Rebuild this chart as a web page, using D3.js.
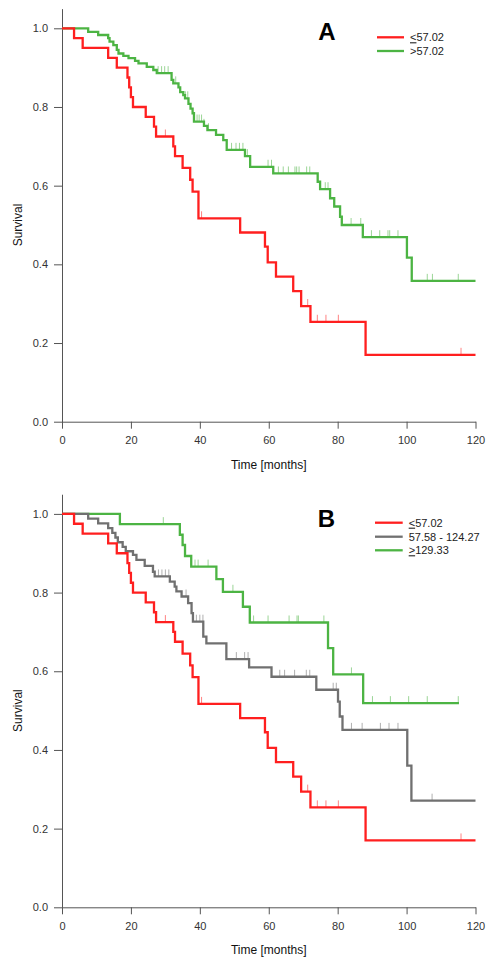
<!DOCTYPE html>
<html>
<head>
<meta charset="utf-8">
<script src="https://cdn.jsdelivr.net/npm/d3@7"></script>
<style>
  html, body { margin: 0; padding: 0; background: #fff; }
  svg { display: block; font-family: "Liberation Sans", Arial, sans-serif; }
</style>
</head>
<body>
<svg id="chart" width="493" height="969"></svg>
<script>
// ---------- DATA ----------
const xTicks = [0, 20, 40, 60, 80, 100, 120];
const yTicks = [0.0, 0.2, 0.4, 0.6, 0.8, 1.0];

// group <=57.02 (same in both panels): [time, survival after event]
const lowSteps = [[3.5,0.975],[6.0,0.95],[13.4,0.925],[15.9,0.9],[19.0,0.875],[19.5,0.85],[20.0,0.825],[20.6,0.8],
  [24.3,0.775],[26.7,0.75],[27.3,0.725],[32.3,0.7],[32.8,0.675],[35.0,0.645],[37.2,0.615],[37.9,0.585],[39.6,0.517],
  [51.7,0.481],[58.9,0.445],[59.7,0.405],[62.1,0.369],[67.1,0.332],[69.4,0.294],[72.1,0.254],[88.1,0.170]];
const lowCensor = [30.0, 40.5, 71.3, 74.1, 76.6, 80.2, 115.8];
const lowEnd = 120;

// group >57.02 (panel A)
const highSteps = [[7.6,0.991],[10.5,0.983],[13.4,0.975],[13.8,0.966],[14.9,0.957],[15.9,0.945],[16.4,0.936],[17.8,0.930],
  [19.3,0.924],[21.2,0.917],[22.2,0.911],[24.6,0.902],[26.5,0.894],[27.5,0.886],[31.8,0.869],[32.3,0.860],[33.8,0.850],
  [34.3,0.838],[35.2,0.830],[35.7,0.822],[36.7,0.808],[37.3,0.796],[37.9,0.784],[38.3,0.763],[41.2,0.752],[42.2,0.741],
  [44.7,0.729],[46.8,0.716],[47.8,0.691],[53.1,0.675],[54.6,0.648],[61.3,0.631],[74.2,0.610],[74.9,0.591],[77.8,0.568],
  [79.0,0.547],[80.7,0.521],[81.2,0.500],[87.3,0.469],[100.1,0.417],[101.5,0.358]];
const highCensor = [27.9,28.9,29.8,30.8,33.0,35.8,36.5,39.2,39.8,40.5,41.2,42.5,49.2,50.5,51.5,52.5,53.8,59.8,60.8,
  62.8,64.2,65.7,67.6,68.1,68.8,71.0,71.9,76.4,77.2,83.9,86.7,89.8,92.2,94.6,95.1,97.5,106.0,107.5,115.0];
const highEnd = 120;

// group 57.58 - 124.27 (panel B)
const midSteps = [[7.6,0.988],[10.5,0.976],[13.4,0.964],[14.6,0.952],[15.5,0.94],[16.2,0.928],[17.6,0.916],[18.5,0.905],
  [20.6,0.896],[21.6,0.883],[24.0,0.868],[26.4,0.853],[26.9,0.841],[31.3,0.828],[32.7,0.815],[33.2,0.803],[34.7,0.790],
  [36.6,0.773],[37.6,0.748],[38.0,0.726],[41.0,0.688],[41.9,0.671],[47.7,0.631],[54.3,0.610],[60.8,0.586],[73.8,0.553],
  [80.1,0.523],[80.6,0.485],[81.4,0.451],[100.2,0.360],[101.4,0.271]];
const midCensor = [28.0,29.0,30.0,31.0,36.0,39.0,40.0,40.9,50.6,53.0,54.0,63.2,64.6,67.5,70.9,71.9,78.7,79.6,84.0,87.1,
  92.4,94.9,97.5,107.4];
const midEnd = 120;

// group >=129.33 (panel B)
const topSteps = [[16.8,0.974],[34.2,0.947],[35.0,0.921],[35.7,0.893],[37.5,0.866],[44.8,0.834],[46.7,0.802],[52.5,0.764],
  [54.5,0.724],[77.2,0.659],[78.7,0.592],[87.4,0.519]];
const topCensor = [29.4,38.6,39.5,42.4,49.6,52.5,55.6,59.8,65.9,68.2,68.6,76.0,84.0,90.1,95.3,100.6,106.0,115.0];
const topEnd = 115.2;

const labelsA = ["57.02", ">57.02"];
const labelsB = ["57.02", "57.58 - 124.27", "129.33"];

// ---------- STYLE ----------
const RED = "#ff1f1f", GREEN = "#4cb443", GREY = "#707070";

const svg = d3.select("#chart");

function survAt(steps, t) {
  let s = 1;
  for (const [st, sv] of steps) { if (st <= t) s = sv; else break; }
  return s;
}

function drawPanel(cfg) {
  const x = d3.scaleLinear().domain([0, 120]).range([62, 475.5]);
  const y = d3.scaleLinear().domain([0, 1.05]).range([cfg.y0, cfg.y0 - 1.05 * 393.4]);
  const g = svg.append("g");

  // axes
  const yAxis = d3.axisLeft(y).tickValues(yTicks).tickFormat(d3.format(".1f")).tickSize(8).tickSizeOuter(0).tickPadding(6);
  const xAxis = d3.axisBottom(x).tickValues(xTicks).tickFormat(d3.format("d")).tickSize(7).tickSizeOuter(0).tickPadding(8);
  const ya = g.append("g").attr("transform", `translate(${x(0)},0)`).call(yAxis);
  const xa = g.append("g").attr("transform", `translate(0,${y(0)})`).call(xAxis);
  [ya, xa].forEach(a => {
    a.selectAll("path,line").attr("stroke", "#555").attr("stroke-width", 1);
    a.selectAll("text").attr("font-size", 11).attr("fill", "#333")
      .attr("font-family", '"Liberation Sans", Arial, sans-serif');
  });

  g.append("text").attr("x", x(60)).attr("y", y(0) + 47).attr("text-anchor", "middle")
    .attr("font-size", 12).attr("fill", "#111").text("Time [months]");
  g.append("text").attr("transform", `translate(22,${y(0.5)}) rotate(-90)`).attr("text-anchor", "middle")
    .attr("font-size", 12).attr("fill", "#111").text("Survival");

  const line = d3.line().x(d => x(d[0])).y(d => y(d[1])).curve(d3.curveStepAfter);

  cfg.groups.forEach(grp => {
    const pts = [[0, 1], ...grp.steps];
    pts.push([grp.end, grp.steps[grp.steps.length - 1][1]]);
    // censor ticks
    g.append("g").selectAll("line").data(grp.censor).join("line")
      .attr("x1", d => x(d)).attr("x2", d => x(d))
      .attr("y1", d => y(survAt(grp.steps, d))).attr("y2", d => y(survAt(grp.steps, d)) - 7)
      .attr("stroke", grp.color).attr("stroke-width", 1).attr("opacity", 0.55);
    g.append("path").datum(pts).attr("d", line).attr("fill", "none")
      .attr("stroke", grp.color).attr("stroke-width", 2.3);
  });

  // panel letter
  g.append("text").attr("x", cfg.letterX).attr("y", cfg.letterY).attr("text-anchor", "middle")
    .attr("font-size", 24).attr("font-weight", "bold").attr("fill", "#000").text(cfg.letter);

  // legend
  cfg.legend.forEach((L, i) => {
    const ly = cfg.legY[i];
    g.append("line").attr("x1", cfg.legX1).attr("x2", cfg.legX2).attr("y1", ly).attr("y2", ly)
      .attr("stroke", L.color).attr("stroke-width", 2.3);
    const t = g.append("text").attr("x", cfg.legX2 + 6).attr("y", ly).attr("dy", "0.36em")
      .attr("font-size", 11).attr("fill", "#222");
    if (L.prefix) {
      t.append("tspan").attr("text-decoration", "underline").text(L.prefix);
    }
    t.append("tspan").text(L.text);
  });
}

drawPanel({
  y0: 421.7, letter: "A", letterX: 327, letterY: 40,
  legX1: 377, legX2: 404, legY: [37.3, 51],
  legend: [{color: RED, prefix: "<", text: labelsA[0]}, {color: GREEN, prefix: "", text: labelsA[1]}],
  groups: [
    {steps: highSteps, censor: highCensor, end: highEnd, color: GREEN},
    {steps: lowSteps, censor: lowCensor, end: lowEnd, color: RED}
  ]
});

drawPanel({
  y0: 907.3, letter: "B", letterX: 326.5, letterY: 527,
  legX1: 375, legX2: 402.7, legY: [522.7, 536.7, 550.3],
  legend: [{color: RED, prefix: "<", text: labelsB[0]}, {color: GREY, prefix: "", text: labelsB[1]},
           {color: GREEN, prefix: ">", text: labelsB[2]}],
  groups: [
    {steps: topSteps, censor: topCensor, end: topEnd, color: GREEN},
    {steps: midSteps, censor: midCensor, end: midEnd, color: GREY},
    {steps: lowSteps, censor: lowCensor, end: lowEnd, color: RED}
  ]
});
</script>
</body>
</html>
